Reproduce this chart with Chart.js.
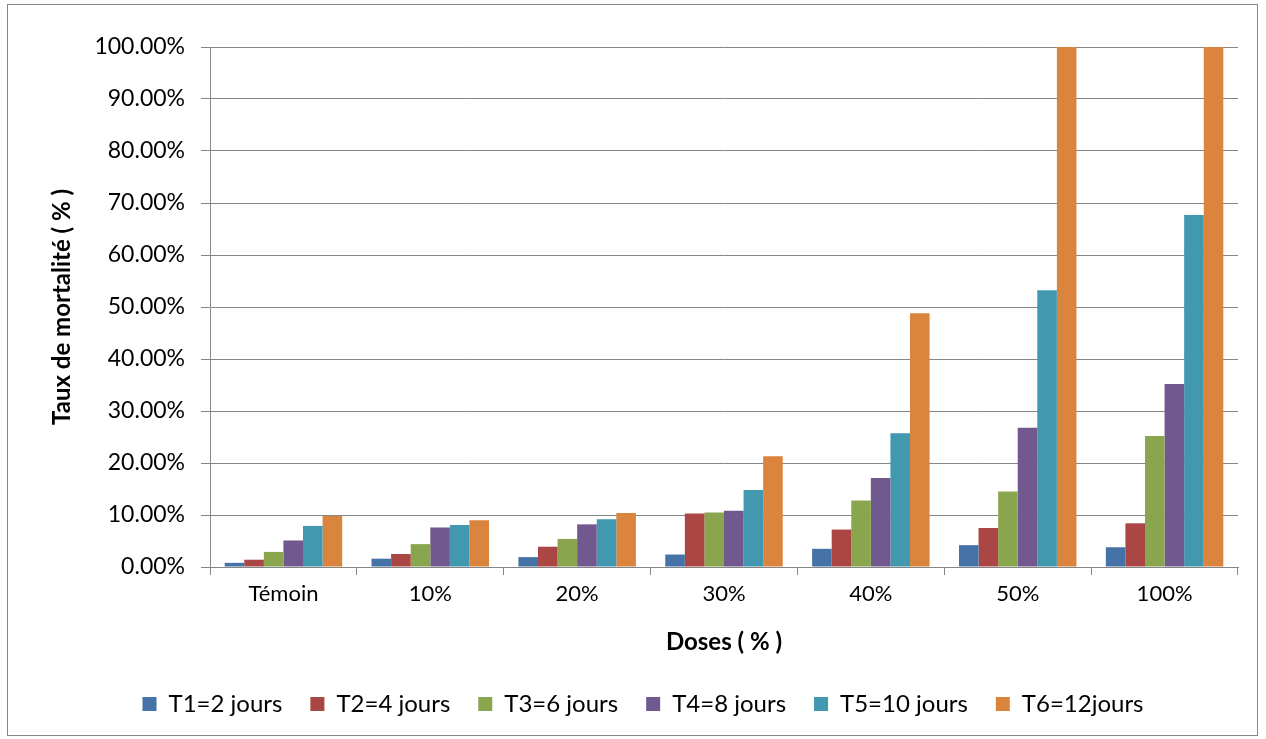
<!DOCTYPE html>
<html>
<head>
<meta charset="utf-8">
<script src="https://cdn.jsdelivr.net/npm/chart.js@4/dist/chart.umd.min.js"></script>
<style>
  body { margin: 0; background: #fff; }
  #frame { position: absolute; left: 7px; top: 4px; width: 1251px; height: 732px; border: 1px solid #868686; box-sizing: border-box; }
  #chart { position: absolute; left: 0; top: 0; }
</style>
</head>
<body>
<div id="frame"></div>
<canvas id="chart" width="1266" height="739"></canvas>
<script>
// Data (percent)
const doses = ["Témoin", "10%", "20%", "30%", "40%", "50%", "100%"];
const t1 = [0.8, 1.6, 1.9, 2.4, 3.5, 4.2, 3.8];
const t2 = [1.4, 2.5, 3.9, 10.3, 7.2, 7.5, 8.4];
const t3 = [2.9, 4.4, 5.4, 10.5, 12.8, 14.5, 25.2];
const t4 = [5.1, 7.6, 8.2, 10.8, 17.1, 26.8, 35.2];
const t5 = [7.9, 8.1, 9.2, 14.8, 25.7, 53.2, 67.7];
const t6 = [9.8, 9.0, 10.4, 21.3, 48.8, 100, 100];
const seriesNames = ["T1=2 jours", "T2=4 jours", "T3=6 jours", "T4=8 jours", "T5=10 jours", "T6=12jours"];
const seriesColors = ["#4572A7", "#AA4643", "#89A54E", "#71588F", "#4198AF", "#DB843D"];
const yTicks = [0, 10, 20, 30, 40, 50, 60, 70, 80, 90, 100];

const gridColor = "#868686";
const font = "Lato";

const datasets = [t1, t2, t3, t4, t5, t6].map((vals, i) => ({
  label: seriesNames[i],
  data: vals,
  backgroundColor: seriesColors[i],
  borderWidth: 0,
  categoryPercentage: 0.8,
  barPercentage: 1.0
}));

new Chart(document.getElementById("chart"), {
  type: "bar",
  data: { labels: doses, datasets: datasets },
  options: {
    responsive: false,
    animation: false,
    devicePixelRatio: 1,
    layout: { padding: { left: 48, right: 28, top: 47, bottom: 13 } },
    plugins: {
      tooltip: { enabled: false },
      legend: {
        position: "bottom",
        labels: {
          font: { family: font, size: 24 },
          color: "#000",
          boxWidth: 14,
          boxHeight: 14,
          padding: 28
        }
      }
    },
    scales: {
      x: {
        afterFit: s => { s.height = 97; },
        grid: { drawOnChartArea: false, drawTicks: true, tickLength: 8, offset: true, color: gridColor },
        border: { color: gridColor, width: 1 },
        ticks: { font: { family: font, size: 22 }, color: "#000", padding: 6 },
        title: {
          display: true,
          text: "Doses ( % )",
          font: { family: font, size: 24, weight: "bold" },
          color: "#000",
          padding: { top: 0, bottom: 7 }
        }
      },
      y: {
        min: 0,
        max: 100,
        afterFit: s => { s.width = 162; },
        afterBuildTicks: s => { s.ticks = yTicks.map(v => ({ value: v })); },
        grid: { color: gridColor, lineWidth: 1, tickLength: 9 },
        border: { color: gridColor, width: 1 },
        ticks: {
          font: { family: font, size: 23 },
          color: "#000",
          padding: 16,
          callback: v => v.toFixed(2) + "%"
        },
        title: {
          display: true,
          text: "Taux de mortalité ( % )",
          font: { family: font, size: 24, weight: "bold" },
          color: "#000",
          padding: 0
        }
      }
    }
  }
});
</script>
</body>
</html>
